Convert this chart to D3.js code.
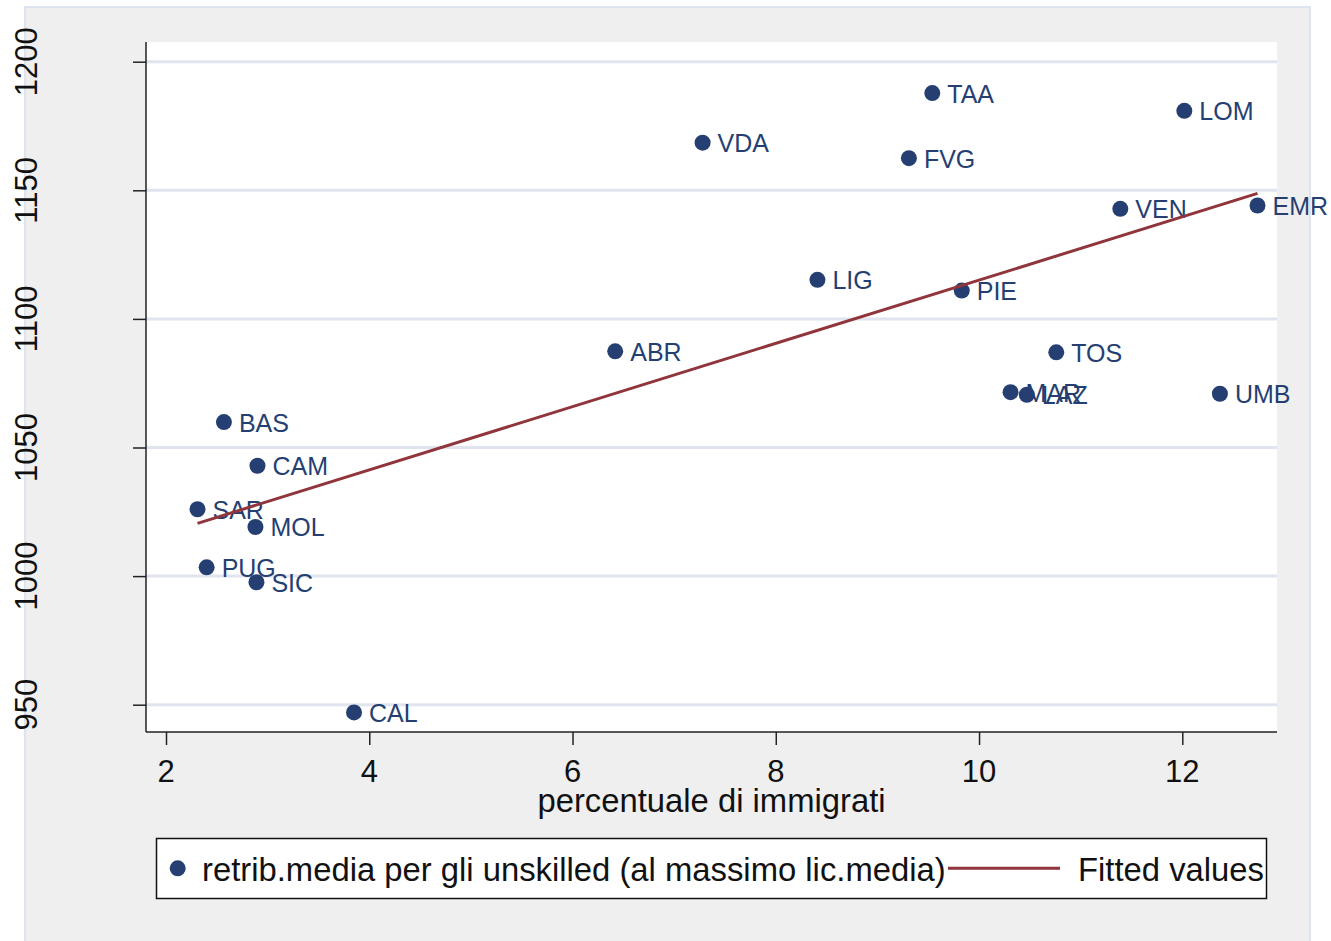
<!DOCTYPE html>
<html>
<head>
<meta charset="utf-8">
<script src="https://cdn.jsdelivr.net/npm/d3@7"></script>
<style>
  html, body { margin: 0; padding: 0; background: #ffffff; }
  svg { display: block; font-family: "Liberation Sans", Arial, Helvetica, sans-serif; }
</style>
</head>
<body>
<svg id="chart" width="1331" height="941"></svg>
<script>
// ---- data ----
const regions = ["TAA","LOM","VDA","FVG","VEN","EMR","LIG","PIE","ABR","TOS","MAR","LAZ","UMB","BAS","CAM","SAR","MOL","PUG","SIC","CAL"];
const immigrati = [9.54,12.02,7.28,9.31,11.39,12.74,8.41,9.83,6.42,10.76,10.31,10.47,12.37,2.57,2.90,2.31,2.88,2.40,2.89,3.85];
const retribuzione = [1187.8,1180.9,1168.5,1162.5,1142.8,1144.1,1115.2,1111.0,1087.4,1087.0,1071.5,1070.5,1070.9,1059.9,1042.9,1026.0,1019.1,1003.4,997.6,947.0];
const fitX = [2.31, 12.74];
const fitY = [1020.5, 1148.8];
const xTicks = [2,4,6,8,10,12];
const yTicks = [950,1000,1050,1100,1150,1200];
const xTitle = "percentuale di immigrati";
const legendLabels = ["retrib.media per gli unskilled (al massimo lic.media)", "Fitted values"];

// ---- layout ----
const W = 1331, H = 941;
const plot = {left: 146, right: 1277, top: 42, bottom: 732};
const navy = "#253f72";
const maroon = "#90353b";

const svg = d3.select("#chart");

// outer background
svg.append("rect").attr("x", 25).attr("y", 7).attr("width", 1285).attr("height", 940)
  .attr("fill", "#efefef").attr("stroke", "#dde4ef").attr("stroke-width", 2);

// plot area
svg.append("rect").attr("x", plot.left).attr("y", plot.top)
  .attr("width", plot.right - plot.left).attr("height", plot.bottom - plot.top)
  .attr("fill", "#ffffff");

const x = d3.scaleLinear().domain([2, 12]).range([166, 1182.3]);
const y = d3.scaleLinear().domain([950, 1200]).range([704.7, 61.7]);

// grid
svg.append("g").selectAll("line").data(yTicks).join("line")
  .attr("x1", plot.left).attr("x2", plot.right)
  .attr("y1", d => y(d)).attr("y2", d => y(d))
  .attr("stroke", "#e0e4ee").attr("stroke-width", 3);

// y axis
const yAxis = svg.append("g").attr("transform", `translate(${plot.left},0)`)
  .call(d3.axisLeft(y).tickValues(yTicks).tickSize(13).tickSizeOuter(0).tickFormat(d3.format("d")));
yAxis.select(".domain").remove();
yAxis.selectAll(".tick line").attr("stroke", "#222").attr("stroke-width", 1.5);
yAxis.selectAll(".tick text").remove();
svg.append("line").attr("x1", plot.left).attr("x2", plot.left).attr("y1", plot.top).attr("y2", plot.bottom)
  .attr("stroke", "#222").attr("stroke-width", 1.5);
svg.append("g").selectAll("text").data(yTicks).join("text")
  .attr("transform", d => `translate(36.5,${y(d)}) rotate(-90)`)
  .attr("text-anchor", "middle").attr("font-size", 31).attr("fill", "#111")
  .text(d => d);

// x axis
const xAxis = svg.append("g").attr("transform", `translate(0,${plot.bottom})`)
  .call(d3.axisBottom(x).tickValues(xTicks).tickSize(13).tickSizeOuter(0).tickFormat(d3.format("d")));
xAxis.select(".domain").remove();
xAxis.selectAll(".tick line").attr("stroke", "#222").attr("stroke-width", 1.5);
xAxis.selectAll(".tick text").remove();
svg.append("line").attr("x1", plot.left).attr("x2", plot.right).attr("y1", plot.bottom).attr("y2", plot.bottom)
  .attr("stroke", "#222").attr("stroke-width", 1.5);
svg.append("g").selectAll("text").data(xTicks).join("text")
  .attr("x", d => x(d)).attr("y", 782)
  .attr("text-anchor", "middle").attr("font-size", 31).attr("fill", "#111")
  .text(d => d);

// x title
svg.append("text").attr("x", (plot.left + plot.right) / 2).attr("y", 812)
  .attr("text-anchor", "middle").attr("font-size", 32.8).attr("fill", "#111").text(xTitle);

// points
const pts = regions.map((r, i) => ({r, x: immigrati[i], y: retribuzione[i]}));
const gp = svg.append("g");
gp.selectAll("circle").data(pts).join("circle")
  .attr("cx", d => x(d.x)).attr("cy", d => y(d.y)).attr("r", 8).attr("fill", navy);
gp.selectAll("text").data(pts).join("text")
  .attr("x", d => x(d.x) + 15).attr("y", d => y(d.y) + 9.5)
  .attr("font-size", 25).attr("fill", navy).text(d => d.r);

// fitted line
const line = d3.line().x(d => x(d[0])).y(d => y(d[1]));
svg.append("path").datum(fitX.map((v, i) => [v, fitY[i]]))
  .attr("d", line).attr("fill", "none").attr("stroke", maroon).attr("stroke-width", 3);

// legend
const lg = svg.append("g");
lg.append("rect").attr("x", 156.5).attr("y", 838.5).attr("width", 1110).attr("height", 60)
  .attr("fill", "#ffffff").attr("stroke", "#111").attr("stroke-width", 1.5);
lg.append("circle").attr("cx", 177.7).attr("cy", 868.3).attr("r", 8).attr("fill", navy);
lg.append("text").attr("x", 202).attr("y", 881).attr("font-size", 32.8).attr("fill", "#111").text(legendLabels[0]);
lg.append("line").attr("x1", 948).attr("x2", 1060).attr("y1", 868.3).attr("y2", 868.3)
  .attr("stroke", maroon).attr("stroke-width", 3);
lg.append("text").attr("x", 1078).attr("y", 881).attr("font-size", 32.8).attr("fill", "#111").text(legendLabels[1]);
</script>
</body>
</html>
